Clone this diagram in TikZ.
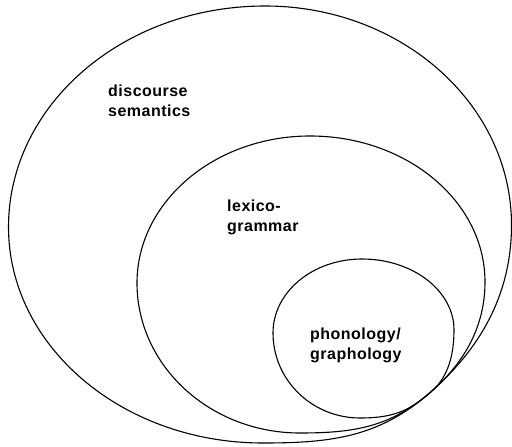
\documentclass[tikz,border=0pt]{standalone}
\usepackage{fontspec}
\setmainfont{Liberation Sans}
\begin{document}
\begin{tikzpicture}[x=1pt, y=-1pt,
  stratum/.style={draw=black, line width=1.1pt, line join=round},
  label/.style={font=\fontsize{16}{19.5}\selectfont\bfseries\addfontfeatures{LetterSpace=3},
    align=left, anchor=north west, inner sep=0pt, text=black}]
  \useasboundingbox (0,0) rectangle (512,447);
  % point where the three strata touch
  \coordinate (touch) at (433,390);
  % discourse semantics
  \draw[stratum] (8.5,227) .. controls (8.5,105) and (123,6) .. (265,6)
    .. controls (401,6) and (511.5,104) .. (511.5,225)
    .. controls (511.5,305) and (470,356.5) .. (touch)
    .. controls (381,436.8) and (333,443) .. (263,443)
    .. controls (122,443) and (8.5,346) .. cycle;
  % lexicogrammar
  \draw[stratum] (137,283) .. controls (137,202) and (214.5,136) .. (310,136)
    .. controls (406.7,136) and (485,201.4) .. (485,282)
    .. controls (485,332) and (459,366.6) .. (touch)
    .. controls (392,426.8) and (355,433) .. (300,433)
    .. controls (210,433) and (137,365.8) .. cycle;
  % phonology / graphology
  \draw[stratum] (273,333) .. controls (273,292) and (312.8,259) .. (362,259)
    .. controls (412.8,259) and (454,290.8) .. (454,330)
    .. controls (454,355) and (447.9,376.6) .. (touch)
    .. controls (410.7,410.1) and (395,418) .. (360,418)
    .. controls (312,418) and (273,380) .. cycle;
  % labels
  \node[label] (ds) at (108,85) {discourse\\semantics};
  \node[label] (lg) at (227,200) {lexico-\\grammar};
  \node[label] (pg) at (310,328) {phonology/\\graphology};
\end{tikzpicture}
\end{document}
